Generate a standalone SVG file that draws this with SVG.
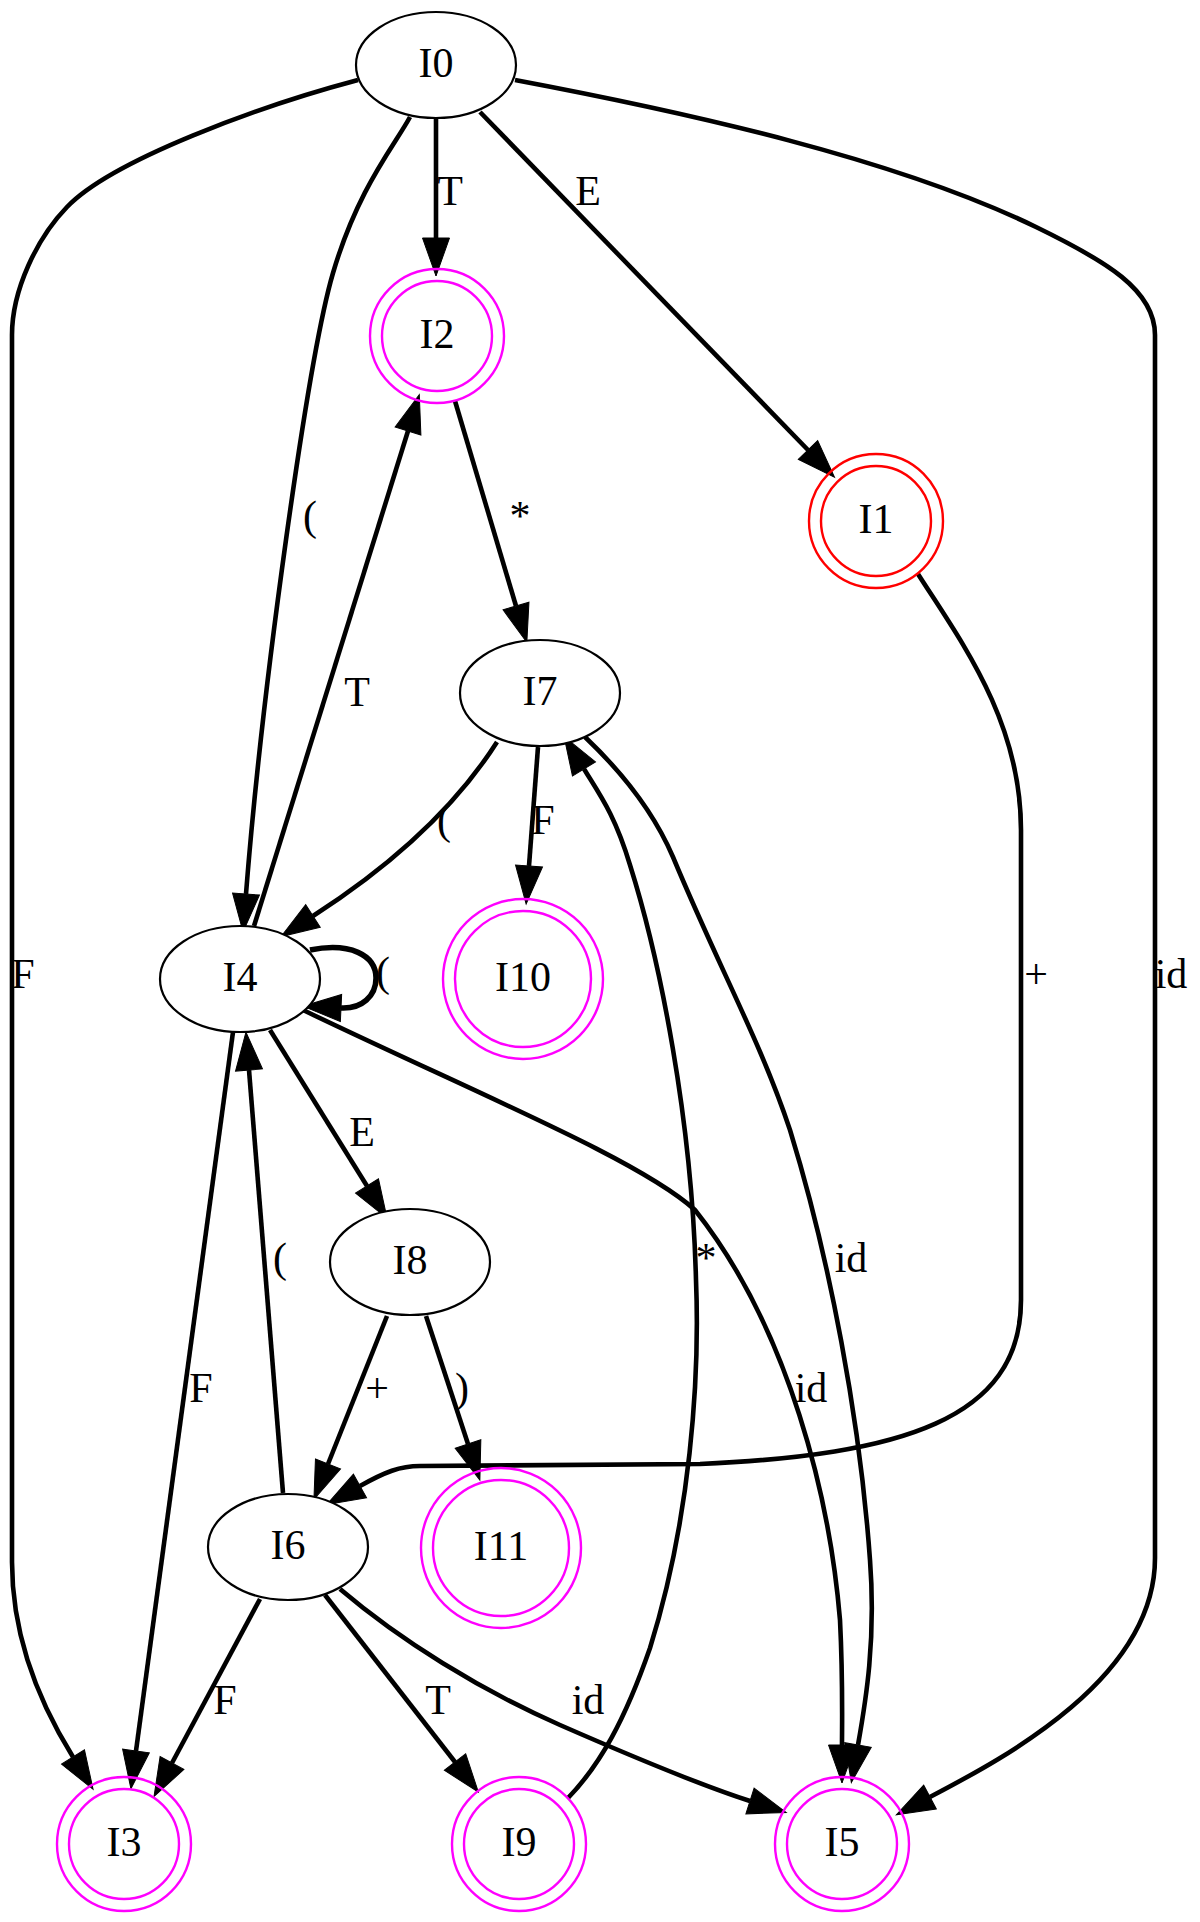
<svg xmlns="http://www.w3.org/2000/svg" width="1200" height="1922" viewBox="0 0 1200 1922">
<style>
text { font-family: "Liberation Serif", "Times New Roman", serif; font-size: 42px; text-anchor: middle; fill: #000; }
.n { fill: #fff; stroke: #000; stroke-width: 2.2; }
.acc { fill: none; stroke: #ff00ff; stroke-width: 2.4; }
.red { fill: none; stroke: #ff0000; stroke-width: 2.4; }
.e { fill: none; stroke: #000; stroke-width: 4.6; marker-end: url(#arr); }
.loop { stroke-width: 5.5; }
</style>
<defs>
<marker id="arr" markerUnits="userSpaceOnUse" viewBox="0 -14 39 28" refX="0" refY="0" markerWidth="39" markerHeight="28" orient="auto" overflow="visible">
<path d="M0,-13.5 L38,0 L0,13.5 Z" fill="#000" stroke="#000" stroke-width="1"/>
</marker>
</defs>
<rect width="1200" height="1922" fill="#fff"/>
<g id="connectors">
<path class="e" d="M358,80 C260,106 112,160 67,207 C37,238 12,290 12,335 L12,1562 C12,1650 50,1720 73,1757"/>
<text x="23" y="988">F</text>
<path class="e" d="M410,117 C395,145 358,188 333,273 C308,358 262,690 246,894"/>
<text x="310" y="530">(</text>
<path class="e" d="M436,118 L436,238"/>
<text x="450" y="205">T</text>
<path class="e" d="M480,112 L808,450"/>
<text x="588" y="205">E</text>
<path class="e" d="M515,80 C690,113 896,159 1036,227 C1106,261 1155,290 1155,335 L1155,1558 C1155,1680 1000,1760 930,1797"/>
<text x="1171" y="988">id</text>
<path class="e" d="M455,401 L516,606"/>
<text x="520" y="530">*</text>
<path class="e" d="M254,926 L408,431"/>
<text x="357" y="706">T</text>
<path class="e" d="M497,742 C460,800 400,860 313,916"/>
<text x="444" y="834">(</text>
<path class="e" d="M538,747 L529,866"/>
<text x="543" y="834">F</text>
<path class="e" d="M585,737 C625,775 655,815 673,857 C720,970 760,1040 790,1130 C830,1260 860,1420 870,1560 C876,1640 866,1700 858,1745"/>
<text x="851" y="1272">id</text>
<path class="e loop" d="M310,950 C350,942 376,955 376,978 C376,996 362,1009 341,1008"/>
<text x="383" y="986">(</text>
<path class="e" d="M270,1030 L367,1186"/>
<text x="362" y="1146">E</text>
<path class="e" d="M303,1010 C480,1095 640,1160 695,1210 C790,1330 830,1500 840,1620 C843,1680 842,1720 842,1745"/>
<text x="811" y="1402">id</text>
<path class="e" d="M233,1032 L136,1751"/>
<text x="201" y="1402">F</text>
<path class="e" d="M283,1493 L249,1070"/>
<text x="280" y="1272">(</text>
<path class="e" d="M387,1316 L328,1464"/>
<text x="377" y="1402">+</text>
<path class="e" d="M426,1316 L468,1444"/>
<text x="462" y="1402">)</text>
<path class="e" d="M918,574 C960,640 1021,720 1021,830 L1021,1300 C1021,1420 900,1455 700,1464 L420,1466 C400,1466 385,1472 360,1486"/>
<text x="1036" y="988">+</text>
<path class="e" d="M568,1798 C600,1765 625,1720 650,1648 C690,1520 700,1380 696,1280 C692,1120 660,960 630,865 C615,815 600,795 584,769"/>
<text x="706" y="1272">*</text>
<path class="e" d="M260,1599 L172,1763"/>
<text x="225" y="1714">F</text>
<path class="e" d="M325,1595 L455,1762"/>
<text x="438" y="1714">T</text>
<path class="e" d="M340,1589 C400,1640 480,1690 560,1725 C640,1760 700,1785 750,1801"/>
<text x="588" y="1714">id</text>
</g>
<g id="I0"><ellipse class="n" cx="436" cy="65" rx="80" ry="53"/><text x="436" y="77">I0</text></g>
<g id="I2"><circle class="acc" cx="437" cy="336" r="67"/><circle class="acc" cx="437" cy="336" r="55"/><text x="437" y="348">I2</text></g>
<g id="I1"><circle class="red" cx="876" cy="521" r="67"/><circle class="red" cx="876" cy="521" r="55"/><text x="876" y="533">I1</text></g>
<g id="I7"><ellipse class="n" cx="540" cy="693" rx="80" ry="53"/><text x="540" y="705">I7</text></g>
<g id="I4"><ellipse class="n" cx="240" cy="979" rx="80" ry="53"/><text x="240" y="991">I4</text></g>
<g id="I10"><circle class="acc" cx="523" cy="979" r="80"/><circle class="acc" cx="523" cy="979" r="68"/><text x="523" y="991">I10</text></g>
<g id="I8"><ellipse class="n" cx="410" cy="1262" rx="80" ry="53"/><text x="410" y="1274">I8</text></g>
<g id="I6"><ellipse class="n" cx="288" cy="1547" rx="80" ry="53"/><text x="288" y="1559">I6</text></g>
<g id="I11"><circle class="acc" cx="501" cy="1548" r="80"/><circle class="acc" cx="501" cy="1548" r="68"/><text x="501" y="1560">I11</text></g>
<g id="I3"><circle class="acc" cx="124" cy="1844" r="67"/><circle class="acc" cx="124" cy="1844" r="55"/><text x="124" y="1856">I3</text></g>
<g id="I9"><circle class="acc" cx="519" cy="1844" r="67"/><circle class="acc" cx="519" cy="1844" r="55"/><text x="519" y="1856">I9</text></g>
<g id="I5"><circle class="acc" cx="842" cy="1844" r="67"/><circle class="acc" cx="842" cy="1844" r="55"/><text x="842" y="1856">I5</text></g>
</svg>
